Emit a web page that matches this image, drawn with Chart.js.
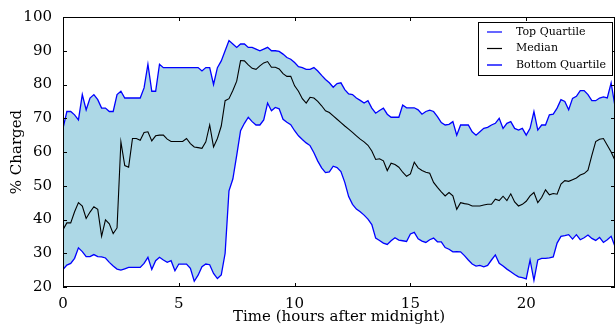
<!DOCTYPE html>
<html>
<head>
<meta charset="utf-8">
<script src="https://cdn.jsdelivr.net/npm/chart.js@4"></script>
<style>
  html, body { margin: 0; padding: 0; background: #fff; }
</style>
</head>
<body>
<canvas id="chart" width="616" height="324"></canvas>
<script>
// values every 10 minutes, 0:00 .. 23:50
const topQuartile = [67,72,72,71,69.5,77,72.5,76,77,75.5, 73,73,72,72,77,78,76,76,76,76,
    76,79,86,78,78,86,85,85,85,85, 85,85,85,85,85,85,84,85,85,80,
    85,87,90,93,92,91,92,92,91,91, 90.5,90,90.5,91,90,90,89.8,89,88,87.5,
    86.5,85.3,85,84.5,84.5,85,84,82.7,81.5,80.5, 79.2,80.3,80.5,78.5,77.2,77,76,75.3,74.5,75.2,
    73,71.5,72.3,73,71.2,70.3,70.3,70.3,73.9,73.1, 73.1,73.1,72.5,71.2,72,72.4,72,70.5,68.7,68,
    68.2,69,65,68,68,68,66,65,66,67, 67.3,68,68.5,70,67,68.5,69,67,66.5,67,
    65,67,72,66.5,68,68,71,71.2,73,75.5, 75,72.5,75.9,76.5,78.2,78.2,77,75.2,75.2,76,
    76.3,76,80.5,73.5];
const median = [37,39,39,42.3,45,44,40.3,42.2,43.8,43, 35,39.9,38.7,35.8,37.5,63,56,55.5,64,64,
    63.5,65.8,66,63.3,64.8,65,65,63.8,63.1,63.1, 63.1,63.1,64,62.5,61.5,61.3,61.1,63,68,61.5,
    64,67.7,75.2,75.8,78.2,81,87.1,87,85.8,84.8, 84.5,85.5,86.4,86.8,85.1,85.1,84.6,83.2,82.4,82.4,
    79.6,78,75.8,74.5,76.2,76,75,73.7,72.2,71.7, 70.7,69.7,68.7,67.7,66.8,65.8,64.8,63.8,63,62,
    60.3,57.8,58,57.4,54.5,56.7,56.3,55.5,54,52.8, 53.5,57,55.3,54.5,54,53.7,51,49.5,48.2,47,
    48,47,43,45,44.7,44.5,44,44,44,44.3, 44.5,44.5,46,45.6,46.9,45.6,47.6,45.2,44,44.5,
    45.4,47,48,45,46.5,48.8,47.3,47.7,47.5,50.5, 51.5,51.3,51.8,52.3,53.2,53.6,54.6,59,63.1,63.8,
    64,62,60,57.5];
const bottomQuartile = [25.2,26.5,27,28.5,31.6,30.5,29,29,29.6,29, 28.9,28.6,27.3,26.2,25.3,25,25.4,25.8,25.8,25.8,
    25.8,27,28.8,25.2,27.8,28.8,28,27.3,27.8,24.8, 26.8,26.8,26.8,25.5,21.7,23.5,26,26.8,26.6,24,
    22.5,23.6,30,48.5,52,59,66.3,68.5,70.3,69, 68,68,69.5,74.5,72.2,73.2,72.8,69.7,68.8,68.1,
    66.3,64.8,63.7,62.7,61.9,59.8,57.3,55.3,53.9,54.1, 55.8,55.4,54.2,51,46.8,44.5,43.1,42.3,41.3,40.1,
    38.5,34.5,33.8,33,32.6,33.7,34.6,33.9,33.7,33.5, 35.7,36.2,34.3,33.6,33.2,34,34.5,33.4,33.4,31.7,
    31.2,30.4,30.5,30.4,29.3,28,26.8,26.2,26.4,26, 26.4,28,29.5,27,26.2,25.3,24.5,23.7,23,22.8,
    22.4,28,22,28,28.5,28.5,28.6,28.9,33,35, 35.2,35.5,34.2,35.5,34,34.6,35.4,34.4,33.8,34.7,
    33.2,34,35,32];
const hours = topQuartile.map((_, i) => i / 6);

const xTicks = [0, 5, 10, 15, 20];
const yTicks = [20, 30, 40, 50, 60, 70, 80, 90, 100];
const seriesNames = ['Top Quartile', 'Median', 'Bottom Quartile'];

const FONT = 'DejaVu Serif';
const toPoints = vals => vals.map((v, i) => ({ x: hours[i], y: v }));

// box + inward ticks on all four sides, like matplotlib
const framePlugin = {
    id: 'frame',
    afterDatasetsDraw(chart) {
        const { ctx, chartArea: a, scales } = chart;
        ctx.save();
        ctx.strokeStyle = '#000';
        ctx.lineWidth = 1;
        ctx.beginPath();
        xTicks.forEach(v => {
            const px = Math.round(scales.x.getPixelForValue(v)) + 0.5;
            ctx.moveTo(px, a.bottom); ctx.lineTo(px, a.bottom - 4);
            ctx.moveTo(px, a.top); ctx.lineTo(px, a.top + 4);
        });
        yTicks.forEach(v => {
            const py = Math.round(scales.y.getPixelForValue(v)) + 0.5;
            ctx.moveTo(a.left, py); ctx.lineTo(a.left + 4, py);
            ctx.moveTo(a.right, py); ctx.lineTo(a.right - 4, py);
        });
        ctx.stroke();
        ctx.strokeRect(Math.round(a.left) + 0.5, Math.round(a.top) + 0.5,
            Math.round(a.right - a.left) - 1, Math.round(a.bottom - a.top) - 1);
        ctx.restore();
    }
};

// legend box in the upper right corner of the plot
const legendPlugin = {
    id: 'boxLegend',
    afterDraw(chart) {
        const { ctx, chartArea: a } = chart;
        const colors = ['#0000ff', '#000000', '#4d4dff'];
        const boxL = a.right - 137, boxT = a.top + 5, boxW = 134, boxH = 53;
        ctx.save();
        ctx.fillStyle = '#fff';
        ctx.fillRect(boxL, boxT, boxW, boxH);
        ctx.strokeStyle = '#000';
        ctx.lineWidth = 1;
        ctx.strokeRect(boxL + 0.5, boxT + 0.5, boxW, boxH);
        ctx.font = '11px "' + FONT + '"';
        ctx.textBaseline = 'middle';
        seriesNames.forEach((name, i) => {
            const y = boxT + 10 + i * 16.5;
            ctx.strokeStyle = colors[i];
            ctx.lineWidth = i === 2 ? 2 : 1.2;
            ctx.beginPath();
            ctx.moveTo(boxL + 9, y); ctx.lineTo(boxL + 24, y);
            ctx.stroke();
            ctx.fillStyle = '#000';
            ctx.fillText(name, boxL + 38, y);
        });
        ctx.restore();
    }
};

new Chart(document.getElementById('chart'), {
    type: 'line',
    data: {
        datasets: [{
            label: seriesNames[0],
            data: toPoints(topQuartile),
            borderColor: '#0000ff',
            borderWidth: 1.3,
            pointRadius: 0,
            fill: false
        }, {
            label: seriesNames[1],
            data: toPoints(median),
            borderColor: '#000000',
            borderWidth: 1.1,
            pointRadius: 0,
            fill: false
        }, {
            label: seriesNames[2],
            data: toPoints(bottomQuartile),
            borderColor: '#0000ff',
            borderWidth: 1.3,
            pointRadius: 0,
            backgroundColor: '#add8e6',
            fill: 0
        }]
    },
    options: {
        responsive: false,
        animation: false,
        layout: { padding: { top: 17, right: 1, left: 0, bottom: 0 } },
        scales: {
            x: {
                type: 'linear',
                min: 0,
                max: hours[hours.length - 1],
                afterBuildTicks: axis => { axis.ticks = xTicks.map(v => ({ value: v })); },
                afterFit: s => { s.height = 37; },
                grid: { display: false },
                border: { display: false },
                ticks: { color: '#000', padding: 0, font: { family: FONT, size: 15 }, maxRotation: 0 },
                title: {
                    display: true,
                    text: 'Time (hours after midnight)',
                    color: '#000',
                    font: { family: FONT, size: 15 },
                    padding: { top: 0, bottom: -2 }
                }
            },
            y: {
                min: 20,
                max: 100,
                afterBuildTicks: axis => { axis.ticks = yTicks.map(v => ({ value: v })); },
                afterFit: s => { s.width = 63; },
                grid: { display: false },
                border: { display: false },
                ticks: { color: '#000', padding: 3, font: { family: FONT, size: 15 } },
                title: {
                    display: true,
                    text: '% Charged',
                    color: '#000',
                    font: { family: FONT, size: 15 },
                    padding: { top: 8, bottom: 0 }
                }
            }
        },
        plugins: {
            legend: { display: false },
            tooltip: { enabled: false }
        }
    },
    plugins: [framePlugin, legendPlugin]
});
</script>
</body>
</html>
